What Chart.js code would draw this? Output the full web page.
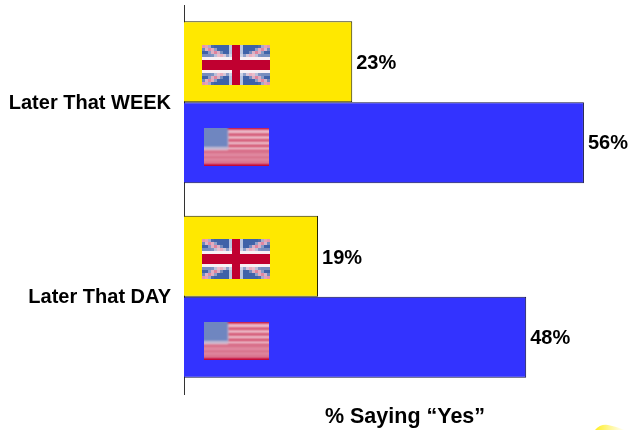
<!DOCTYPE html>
<html>
<head>
<meta charset="utf-8">
<script src="https://cdn.jsdelivr.net/npm/chart.js@4/dist/chart.umd.js"></script>
<style>
  html, body { margin: 0; padding: 0; background: #ffffff; }
  canvas { display: block; }
</style>
</head>
<body>
<canvas id="chart" width="628" height="430"></canvas>
<script>
const categories = ['Later That WEEK', 'Later That DAY'];
const seriesNames = ['UK', 'US'];
// bar lengths, printed labels alongside
const ukValues = [23.6, 18.8];
const usValues = [56.1, 48.0];
const ukLabels = ['23%', '19%'];
const usLabels = ['56%', '48%'];
const axisTitle = '% Saying \u201CYes\u201D';

const FONT = "'Liberation Sans', Arial, sans-serif";

function makeUkFlag() {
    // low-res on purpose, gets scaled up blocky like the original clip art
    const c = document.createElement('canvas');
    c.width = 23; c.height = 13;
    const g = c.getContext('2d');
    g.fillStyle = '#3f62a8';
    g.fillRect(0, 0, 23, 13);
    g.strokeStyle = '#f6eef2';
    g.lineWidth = 1.7;
    g.beginPath();
    g.moveTo(0, 0); g.lineTo(23, 13);
    g.moveTo(23, 0); g.lineTo(0, 13);
    g.stroke();
    g.strokeStyle = '#d0305c';
    g.lineWidth = 0.6;
    g.beginPath();
    g.moveTo(0, 0); g.lineTo(23, 13);
    g.moveTo(23, 0); g.lineTo(0, 13);
    g.stroke();
    g.fillStyle = '#b8c4e0';
    g.fillRect(9, 0, 5, 13);
    g.fillStyle = '#f8f0f4';
    g.fillRect(0, 3.7, 23, 5.6);
    g.fillStyle = '#c00030';
    g.fillRect(10, 0, 3, 13);
    g.fillRect(0, 5, 23, 3);
    return c;
}

function makeUsFlag() {
    const c = document.createElement('canvas');
    c.width = 65; c.height = 38;
    const g = c.getContext('2d');
    g.filter = 'blur(0.8px)';
    g.fillStyle = '#f0c4d0';
    g.fillRect(-4, -4, 73, 46);
    g.fillStyle = '#cc3a5c';
    for (let i = 0; i < 4; i++) {
        g.fillRect(24, 5.5 + i * 5.6, 45, 2.4);
    }
    g.fillStyle = '#d8728c';
    g.fillRect(-4, 22, 73, 13);
    g.fillStyle = '#e8a0b4';
    g.fillRect(-4, 26, 73, 1.5);
    g.fillRect(-4, 31, 73, 1.2);
    g.fillStyle = '#c00030';
    g.fillRect(-4, -4, 73, 5.5);
    g.fillRect(-4, 35.6, 73, 6);
    g.fillStyle = '#6f86c0';
    g.fillRect(-4, -4, 28, 23.5);
    g.fillStyle = '#b4bcd8';
    g.fillRect(-4, 19.5, 28, 1.6);
    return c;
}

const ukFlag = makeUkFlag();
const usFlag = makeUsFlag();

const barDecorations = {
    id: 'barDecorations',
    afterDatasetsDraw(chart) {
        const ctx = chart.ctx;
        ctx.save();
        ctx.textAlign = 'left';
        ctx.textBaseline = 'middle';
        ctx.fillStyle = '#000000';
        ctx.font = 'bold 20px ' + FONT;

        chart.getDatasetMeta(0).data.forEach((bar, i) => {
            const top = Math.floor(bar.y - bar.height / 2);
            ctx.imageSmoothingEnabled = false;
            ctx.drawImage(ukFlag, chart.chartArea.left + 18, top + 24, 68, 40);
            ctx.fillText(ukLabels[i], bar.x + 4, bar.y + 2);
        });
        chart.getDatasetMeta(1).data.forEach((bar, i) => {
            const top = Math.floor(bar.y - bar.height / 2);
            ctx.imageSmoothingEnabled = true;
            ctx.drawImage(usFlag, chart.chartArea.left + 20, top + 26, 65, 38);
            ctx.fillText(usLabels[i], bar.x + 4, bar.y + 1);
        });

        // stray bit of yellow swoosh poking in at the bottom right corner
        const gradient = ctx.createLinearGradient(595, 0, 625, 0);
        gradient.addColorStop(0, '#ffee22');
        gradient.addColorStop(1, 'rgba(255,240,60,0)');
        ctx.fillStyle = gradient;
        ctx.beginPath();
        ctx.moveTo(595, 430);
        ctx.quadraticCurveTo(600, 424, 608, 425);
        ctx.quadraticCurveTo(618, 427, 625, 430);
        ctx.closePath();
        ctx.fill();
        ctx.restore();
    }
};

new Chart(document.getElementById('chart'), {
    type: 'bar',
    data: {
        labels: categories,
        datasets: [
            {
                label: seriesNames[0],
                data: ukValues,
                backgroundColor: '#ffe800',
                borderColor: '#222200',
                borderWidth: 1,
                categoryPercentage: 0.8329,
                barPercentage: 1
            },
            {
                label: seriesNames[1],
                data: usValues,
                backgroundColor: '#3333ff',
                borderColor: '#111144',
                borderWidth: 1,
                categoryPercentage: 0.8329,
                barPercentage: 1
            }
        ]
    },
    options: {
        indexAxis: 'y',
        responsive: false,
        animation: false,
        layout: { padding: { top: 5, right: 2, left: 0, bottom: 0 } },
        plugins: {
            legend: { display: false },
            tooltip: { enabled: false }
        },
        scales: {
            x: {
                min: 0,
                max: 62,
                grid: { display: false, drawTicks: false },
                border: { display: false },
                ticks: { display: false },
                title: {
                    display: true,
                    text: axisTitle,
                    color: '#000000',
                    font: { family: FONT, size: 21.5, weight: 'bold', lineHeight: 1 },
                    padding: { top: 12, bottom: 2.5 }
                },
                afterFit(axis) { axis.height = 36; }
            },
            y: {
                grid: { display: false, drawTicks: false },
                border: { display: true, color: '#333333', width: 1 },
                ticks: {
                    color: '#000000',
                    padding: 13,
                    labelOffset: 1,
                    font: { family: FONT, size: 20, weight: 'bold' }
                },
                afterFit(axis) {
                    axis.width = 184;
                    // otherwise half a label height gets reserved above the axis
                    axis.paddingTop = 0;
                    axis.paddingBottom = 0;
                }
            }
        }
    },
    plugins: [barDecorations]
});
</script>
</body>
</html>
